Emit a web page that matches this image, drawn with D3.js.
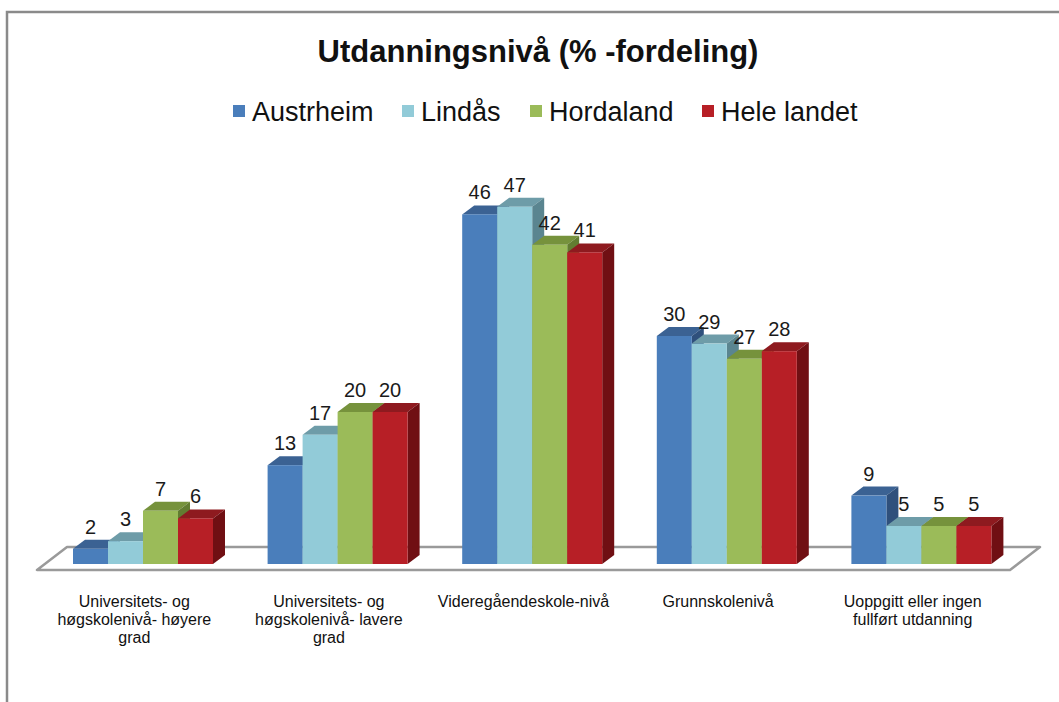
<!DOCTYPE html>
<html>
<head>
<meta charset="utf-8">
<script src="https://cdn.jsdelivr.net/npm/d3@7"></script>
<style>
  body { margin: 0; background: #fff; }
  text { font-family: "Liberation Sans", Arial, sans-serif; }
</style>
</head>
<body>
<svg id="chart" width="1059" height="702"></svg>
<script>
// categories (one entry per line of the axis label)
const categories = [
  ["Universitets- og", "høgskolenivå- høyere", "grad"],
  ["Universitets- og", "høgskolenivå- lavere", "grad"],
  ["Videregåendeskole-nivå"],
  ["Grunnskolenivå"],
  ["Uoppgitt eller ingen", "fullført utdanning"]
];
const seriesNames = ["Austrheim", "Lindås", "Hordaland", "Hele landet"];

const austrheim = [2, 13, 46, 30, 9];
const lindas = [3, 17, 47, 29, 5];
const hordaland = [7, 20, 42, 27, 5];
const heleLandet = [6, 20, 41, 28, 5];

// front / top / side colours of each series
const frontColors = ["#4A7EBB", "#92CBD8", "#9BBB59", "#B71F26"];
const topColors = ["#3B6293", "#6E9CA8", "#76923C", "#8E1A1F"];
const sideColors = ["#2F507C", "#5A8590", "#627C31", "#700F13"];

const seriesValues = [austrheim, lindas, hordaland, heleLandet];

const svg = d3.select("#chart");

// outer frame of the chart area
svg.append("path")
  .attr("d", "M7,702 L7,12 L1059,12")
  .attr("fill", "none")
  .attr("stroke", "#8a8a8a")
  .attr("stroke-width", 2.5);

// title
svg.append("text")
  .attr("x", 538)
  .attr("y", 62)
  .attr("text-anchor", "middle")
  .attr("font-size", "31px")
  .attr("font-weight", "bold")
  .attr("fill", "#111")
  .text("Utdanningsnivå (% -fordeling)");

// legend
const legendX = [233, 402, 530, 702];
const legend = svg.selectAll("g.legend")
  .data(seriesNames)
  .enter()
  .append("g")
  .attr("class", "legend")
  .attr("transform", (d, i) => `translate(${legendX[i]}, 111)`);
legend.append("rect")
  .attr("x", 0)
  .attr("y", -6)
  .attr("width", 12)
  .attr("height", 12)
  .attr("fill", (d, i) => frontColors[i]);
legend.append("text")
  .attr("x", 19)
  .attr("y", 10)
  .attr("font-size", "27px")
  .attr("fill", "#111")
  .text(d => d);

// scales
const floorLeft = 37, floorRight = 1010, floorFront = 570;
const depthX = 30, depthY = -23; // floor depth
const barDX = 12, barDY = -9;    // bar depth

const x0 = d3.scaleBand()
  .domain(d3.range(categories.length))
  .range([floorLeft, floorRight]);
const x1 = d3.scaleBand()
  .domain(d3.range(seriesNames.length))
  .range([36, 176]);
const y = d3.scaleLinear()
  .domain([0, 50])
  .range([564, 184]);

// floor
svg.append("polygon")
  .attr("points", [
    [floorLeft, floorFront],
    [floorRight, floorFront],
    [floorRight + depthX, floorFront + depthY],
    [floorLeft + depthX, floorFront + depthY]
  ].map(p => p.join(",")).join(" "))
  .attr("fill", "#fff")
  .attr("stroke", "#9a9a9a")
  .attr("stroke-width", 2.5)
  .attr("stroke-linejoin", "round");

// bars, drawn left to right so nearer faces cover farther ones
const bars = [];
categories.forEach((c, ci) => {
  seriesValues.forEach((vals, si) => {
    bars.push({ ci: ci, si: si, v: vals[ci] });
  });
});

const barG = svg.selectAll("g.bar")
  .data(bars)
  .enter()
  .append("g")
  .attr("class", "bar");

barG.each(function (d) {
  const g = d3.select(this);
  const xl = x0(d.ci) + x1(d.si);
  const xr = xl + x1.bandwidth();
  const yb = y(0);
  const yt = y(d.v);

  // top face
  g.append("polygon")
    .attr("points", `${xl},${yt} ${xr},${yt} ${xr + barDX},${yt + barDY} ${xl + barDX},${yt + barDY}`)
    .attr("fill", topColors[d.si]);
  // right side face
  g.append("polygon")
    .attr("points", `${xr},${yt} ${xr + barDX},${yt + barDY} ${xr + barDX},${yb + barDY} ${xr},${yb}`)
    .attr("fill", sideColors[d.si]);
  // front face
  g.append("rect")
    .attr("x", xl)
    .attr("y", yt)
    .attr("width", xr - xl)
    .attr("height", yb - yt)
    .attr("fill", frontColors[d.si]);
});

// value labels
svg.selectAll("text.value")
  .data(bars)
  .enter()
  .append("text")
  .attr("class", "value")
  .attr("x", d => x0(d.ci) + x1(d.si) + x1.bandwidth() / 2)
  .attr("y", d => y(d.v) - 15)
  .attr("text-anchor", "middle")
  .attr("font-size", "20px")
  .attr("fill", "#1a1a1a")
  .text(d => d.v);

// category labels under the floor
const catLabels = svg.selectAll("text.cat")
  .data(categories)
  .enter()
  .append("text")
  .attr("class", "cat")
  .attr("text-anchor", "middle")
  .attr("font-size", "16px")
  .attr("fill", "#111");
catLabels.selectAll("tspan")
  .data((d, i) => d.map(line => ({ line: line, ci: i })))
  .enter()
  .append("tspan")
  .attr("x", d => x0(d.ci) + x0.bandwidth() / 2)
  .attr("y", (d, i) => 607 + i * 18)
  .text(d => d.line);
</script>
</body>
</html>
